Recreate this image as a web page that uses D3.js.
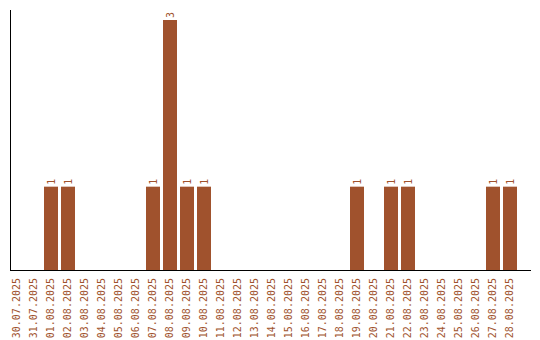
<!DOCTYPE html>
<html>
<head>
<meta charset="utf-8">
<script src="https://cdn.jsdelivr.net/npm/d3@7"></script>
<style>
  body { margin: 0; background: #fff; }
  svg text { font-family: "DejaVu Sans Mono", monospace; font-size: 10px; fill: #a0522d; }
</style>
</head>
<body>
<svg id="chart" width="540" height="340"></svg>
<script>
const dates = [
  '30.07.2025', '31.07.2025', '01.08.2025', '02.08.2025', '03.08.2025', '04.08.2025',
  '05.08.2025', '06.08.2025', '07.08.2025', '08.08.2025', '09.08.2025', '10.08.2025',
  '11.08.2025', '12.08.2025', '13.08.2025', '14.08.2025', '15.08.2025', '16.08.2025',
  '17.08.2025', '18.08.2025', '19.08.2025', '20.08.2025', '21.08.2025', '22.08.2025',
  '23.08.2025', '24.08.2025', '25.08.2025', '26.08.2025', '27.08.2025', '28.08.2025'
];
const counts = [
  0, 0, 1, 1, 0, 0,
  0, 0, 1, 3, 1, 1,
  0, 0, 0, 0, 0, 0,
  0, 0, 1, 0, 1, 1,
  0, 0, 0, 0, 1, 1
];

const svg = d3.select('#chart');
const barColor = '#a0522d';

let x = d3.scaleBand()
  .domain(dates)
  .range([8.5, 518.5])
  .paddingInner(3 / 17)
  .paddingOuter(1.5 / 17);

let y = d3.scaleLinear()
  .domain([0, 3])
  .range([270, 20]);

let data = dates.map((d, i) => ({ date: d, value: counts[i] }));

// bars
svg.append('g')
  .selectAll('rect')
  .data(data.filter(d => d.value > 0))
  .join('rect')
  .attr('x', d => x(d.date))
  .attr('y', d => y(d.value))
  .attr('width', x.bandwidth())
  .attr('height', d => y(0) - y(d.value))
  .attr('fill', barColor);

// value labels, rotated
svg.append('g')
  .selectAll('text')
  .data(data.filter(d => d.value > 0))
  .join('text')
  .attr('transform', d => `translate(${x(d.date) + x.bandwidth() / 2 + 3.5}, ${y(d.value) - 2}) rotate(-90)`)
  .attr('text-anchor', 'start')
  .text(d => d.value);

// axes lines
svg.append('line')
  .attr('x1', 10.5).attr('x2', 10.5)
  .attr('y1', 10).attr('y2', 270)
  .attr('stroke', '#000');

svg.append('line')
  .attr('x1', 10).attr('x2', 531)
  .attr('y1', 270.5).attr('y2', 270.5)
  .attr('stroke', '#000');

// category labels
svg.append('g')
  .selectAll('text')
  .data(dates)
  .join('text')
  .attr('transform', d => `translate(${x(d) + x.bandwidth() / 2 + 3}, 278) rotate(-90)`)
  .attr('text-anchor', 'end')
  .text(d => d);
</script>
</body>
</html>
